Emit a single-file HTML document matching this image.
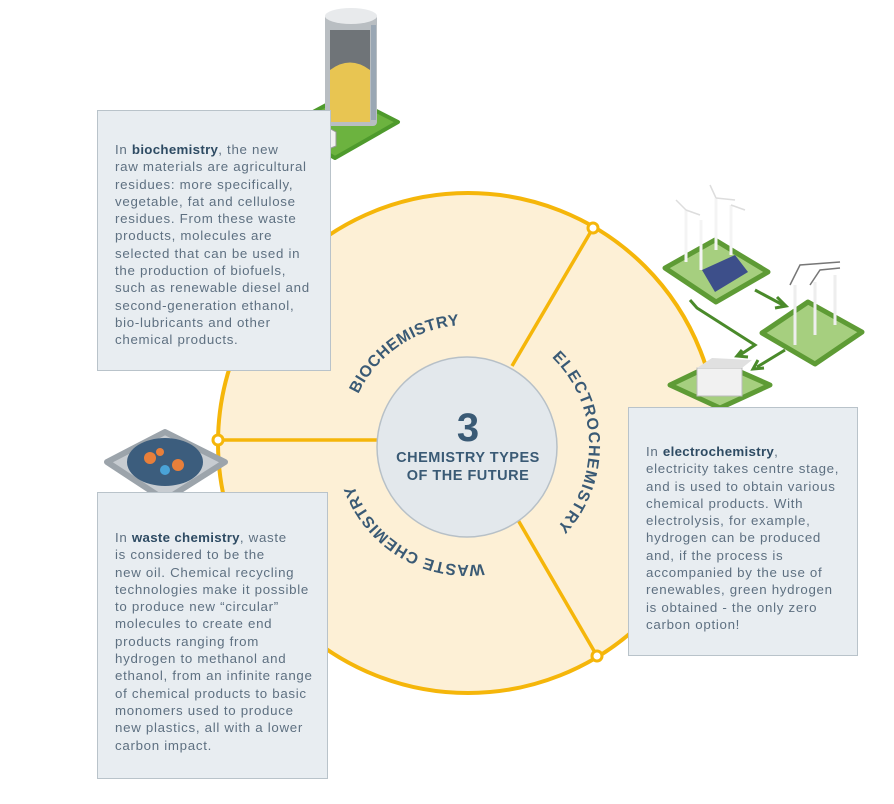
<!DOCTYPE html>
<html><head><meta charset="utf-8"><style>
body{margin:0;background:#fff;width:894px;height:804px;overflow:hidden;position:relative;font-family:"Liberation Sans",sans-serif}
svg{position:absolute;left:0;top:0}
.box{position:absolute;background:#e8edf1;border:1.5px solid #b9c3ca;box-sizing:border-box;color:#5e7081;font-size:13.3px;letter-spacing:0.7px;line-height:17.3px;padding-left:17px;white-space:nowrap}
.box b{color:#2e4b63;letter-spacing:0.3px}
</style></head><body>
<svg width="894" height="804" viewBox="0 0 894 804">
<circle cx="468" cy="443" r="250" fill="#fdf0d6" stroke="#f5b60a" stroke-width="4"/>
<line x1="218" y1="440" x2="380" y2="440" stroke="#f5b60a" stroke-width="3.5"/>
<line x1="593" y1="228" x2="512" y2="366" stroke="#f5b60a" stroke-width="3.5"/>
<line x1="597" y1="656" x2="518" y2="520" stroke="#f5b60a" stroke-width="3.5"/>
<circle cx="218" cy="440" r="5" fill="#fff" stroke="#f5b60a" stroke-width="3"/>
<circle cx="593" cy="228" r="5" fill="#fff" stroke="#f5b60a" stroke-width="3"/>
<circle cx="597" cy="656" r="5" fill="#fff" stroke="#f5b60a" stroke-width="3"/>
<circle cx="467" cy="447" r="90" fill="#e3e8ec" stroke="#b7c0c7" stroke-width="1.5"/>
<text x="468" y="441" text-anchor="middle" font-family="Liberation Sans" font-weight="bold" font-size="40" fill="#3a5a75">3</text>
<text x="468" y="462" text-anchor="middle" font-family="Liberation Sans" font-weight="bold" font-size="14.5" fill="#3a5a75" letter-spacing="0.5">CHEMISTRY TYPES</text>
<text x="468" y="480" text-anchor="middle" font-family="Liberation Sans" font-weight="bold" font-size="14.5" fill="#3a5a75" letter-spacing="0.5">OF THE FUTURE</text>
<defs>
<path id="pb" d="M358.3,394.2 A120,120 0 0 1 462.8,325.1"/>
<path id="pe" d="M551.8,357.3 A122,122 0 0 1 554.7,529.8"/>
<path id="pw" d="M483.7,563.8 A120,120 0 0 1 352.9,482.1"/>
</defs>
<g font-family="Liberation Sans" font-weight="bold" font-size="16" fill="#3a5a75">
<text><textPath href="#pb" textLength="128" lengthAdjust="spacing">BIOCHEMISTRY</textPath></text>
<text><textPath href="#pe" textLength="188" lengthAdjust="spacing">ELECTROCHEMISTRY</textPath></text>
<text><textPath href="#pw" textLength="164" lengthAdjust="spacing">WASTE CHEMISTRY</textPath></text>
</g>
<!-- silo -->
<path d="M283,128 L345,95 L398,122 L335,158 Z" fill="#6cb33f" stroke="#4e9a2c" stroke-width="4" stroke-linejoin="round"/>
<rect x="325" y="14" width="52" height="112" rx="4" fill="#b9bec2"/>
<ellipse cx="351" cy="16" rx="26" ry="8" fill="#e8eaec"/>
<rect x="330" y="30" width="40" height="92" fill="#6f7478"/>
<path d="M330,70 Q350,55 370,70 L370,122 L330,122 Z" fill="#e8c552"/>
<rect x="371" y="25" width="5" height="95" fill="#9aa7b4"/>
<path d="M298,130 L318,122 L336,132 L336,146 L316,154 L298,144 Z" fill="#f2f2f2" stroke="#999" stroke-width="1"/>
<!-- electro tiles -->
<g stroke-linejoin="round">
<path d="M665,268 L715,240 L768,272 L716,302 Z" fill="#a6cf7f" stroke="#5e9b35" stroke-width="5"/>
<path d="M762,333 L808,302 L862,332 L815,364 Z" fill="#a6cf7f" stroke="#5e9b35" stroke-width="5"/>
<path d="M670,385 L718,362 L770,385 L720,408 Z" fill="#a6cf7f" stroke="#5e9b35" stroke-width="5"/>
</g>
<g stroke="#f4f4f4" stroke-width="3">
<line x1="686" y1="210" x2="686" y2="262"/><line x1="701" y1="220" x2="701" y2="270"/><line x1="716" y1="198" x2="716" y2="250"/><line x1="731" y1="205" x2="731" y2="255"/>
</g>
<g stroke="#ddd" stroke-width="1.5">
<line x1="686" y1="210" x2="676" y2="200"/><line x1="686" y1="210" x2="700" y2="215"/><line x1="716" y1="198" x2="710" y2="185"/><line x1="716" y1="198" x2="735" y2="200"/><line x1="731" y1="205" x2="745" y2="210"/>
</g>
<path d="M702,270 L735,255 L748,272 L715,292 Z" fill="#3d4f8a"/>
<g stroke="#eee" stroke-width="3"><line x1="795" y1="285" x2="795" y2="345"/><line x1="815" y1="282" x2="815" y2="335"/><line x1="835" y1="275" x2="835" y2="325"/></g>
<path d="M790,285 L800,265 L840,262 M810,285 L820,270 L840,268" stroke="#777" stroke-width="1.5" fill="none"/>
<rect x="697" y="368" width="45" height="28" fill="#f1f1f1" stroke="#bbb"/>
<path d="M697,368 L712,358 L752,360 L742,368 Z" fill="#e0e0e0"/>
<g stroke="#4a8a2a" stroke-width="3" fill="none">
<path d="M755,290 L783,305"/><path d="M777,297 L786,306 L775,308"/>
<path d="M690,300 L697,308 L755,345 L740,355"/><path d="M742,350 L737,356 L748,357"/>
<path d="M785,350 L757,367"/><path d="M758,360 L753,369 L764,368"/>
</g>
<!-- waste disk -->
<path d="M107,462 L165,432 L225,462 L165,500 Z" fill="#c7ccd1" stroke="#9ca4ab" stroke-width="6" stroke-linejoin="round"/>
<ellipse cx="165" cy="462" rx="38" ry="24" fill="#3c5d7d"/>
<circle cx="150" cy="458" r="6" fill="#e87f3a"/><circle cx="178" cy="465" r="6" fill="#e87f3a"/><circle cx="165" cy="470" r="5" fill="#4aa3d8"/><circle cx="160" cy="452" r="4" fill="#e87f3a"/>
</svg>
<div class="box" style="left:97px;top:110px;width:234px;height:261px;padding-top:30px">In <b>biochemistry</b>, the new<br>raw materials are agricultural<br>residues: more specifically,<br>vegetable, fat and cellulose<br>residues. From these waste<br>products, molecules are<br>selected that can be used in<br>the production of biofuels,<br>such as renewable diesel and<br>second-generation ethanol,<br>bio-lubricants and other<br>chemical products.</div>
<div class="box" style="left:97px;top:492px;width:231px;height:287px;padding-top:36px">In <b>waste chemistry</b>, waste<br>is considered to be the<br>new oil. Chemical recycling<br>technologies make it possible<br>to produce new “circular”<br>molecules to create end<br>products ranging from<br>hydrogen to methanol and<br>ethanol, from an infinite range<br>of chemical products to basic<br>monomers used to produce<br>new plastics, all with a lower<br>carbon impact.</div>
<div class="box" style="left:628px;top:407px;width:230px;height:249px;padding-top:35px">In <b>electrochemistry</b>,<br>electricity takes centre stage,<br>and is used to obtain various<br>chemical products. With<br>electrolysis, for example,<br>hydrogen can be produced<br>and, if the process is<br>accompanied by the use of<br>renewables, green hydrogen<br>is obtained - the only zero<br>carbon option!</div>
</body></html>
